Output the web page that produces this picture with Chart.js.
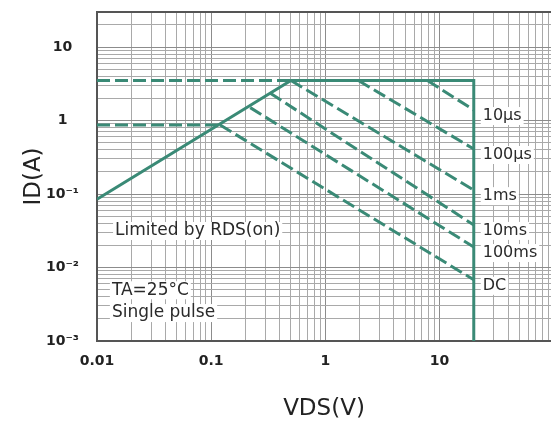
<!DOCTYPE html>
<html>
<head>
<meta charset="utf-8">
<script src="https://cdn.jsdelivr.net/npm/chart.js@4.4.0/dist/chart.umd.min.js"></script>
<style>
  html, body { margin: 0; padding: 0; background: #fff; }
  #wrap { width: 551px; height: 431px; }
</style>
</head>
<body>
<div id="wrap"><canvas id="soa" width="551" height="431"></canvas></div>
<script>
// axis extents (V, A)
const vdsRange = [0.01, 95];
const idRange = [0.001, 30];

const xTickValues = [0.01, 0.1, 1, 10];
const xTickLabels = ['0.01', '0.1', '1', '10'];
const yTickValues = [0.001, 0.01, 0.1, 1, 10];
const yTickLabels = ['10⁻³', '10⁻²', '10⁻¹', '1', '10'];

// outer SOA boundary: RDS(on) limit -> pulsed current limit -> VDS limit
const boundaryV = [0.01, 0.5, 20, 20];
const boundaryI = [0.085, 3.5, 3.5, 0.001];

// dashed current guides running in from the left edge
const guideV = [[0.01, 0.5], [0.01, 0.12]];
const guideI = [[3.5, 3.5], [0.87, 0.87]];

// pulse width lines: start point, end point on the VDS limit
const pulseNames = ['10µs', '100µs', '1ms', '10ms', '100ms', 'DC'];
const pulseStartV = [7.85, 1.95, 0.5, 0.33, 0.22, 0.12];
const pulseStartI = [3.5, 3.5, 3.5, 2.35, 1.5, 0.87];
const pulseEndV = [20, 20, 20, 20, 20, 20];
const pulseEndI = [1.39, 0.41, 0.113, 0.038, 0.019, 0.0068];

const green = '#3a8a76';
const fontFamily = '"DejaVu Sans", sans-serif';
const dash = [13, 5];

function logTicks(min, max) {
  const out = [];
  for (let e = Math.floor(Math.log10(min)); e <= Math.ceil(Math.log10(max)); e++) {
    for (let m = 1; m <= 9; m++) {
      const v = Number((m * Math.pow(10, e)).toPrecision(6));
      if (v >= min * 0.999 && v <= max * 1.001) out.push({ value: v });
    }
  }
  return out;
}

function majorIndex(list, value) {
  return list.findIndex(t => Math.abs(Math.log10(t) - Math.log10(value)) < 1e-6);
}

const datasets = [];
datasets.push({
  data: boundaryV.map((v, i) => ({ x: v, y: boundaryI[i] })),
  borderColor: green, borderWidth: 3
});
guideV.forEach((vs, k) => {
  datasets.push({
    data: vs.map((v, i) => ({ x: v, y: guideI[k][i] })),
    borderColor: green, borderWidth: 3, borderDash: dash
  });
});
pulseNames.forEach((name, k) => {
  datasets.push({
    label: name,
    pulse: true,
    data: [{ x: pulseStartV[k], y: pulseStartI[k] }, { x: pulseEndV[k], y: pulseEndI[k] }],
    borderColor: green, borderWidth: 3, borderDash: dash
  });
});

// plot frame on the left, top and bottom edges
const framePlugin = {
  id: 'frame',
  beforeDatasetsDraw(chart) {
    const { ctx, chartArea: a } = chart;
    ctx.save();
    ctx.strokeStyle = '#555';
    ctx.lineWidth = 2;
    ctx.beginPath();
    ctx.moveTo(a.right, a.top);
    ctx.lineTo(a.left, a.top);
    ctx.lineTo(a.left, a.bottom);
    ctx.lineTo(a.right, a.bottom);
    ctx.stroke();
    ctx.restore();
  }
};

function boxedText(ctx, text, x, y, font) {
  ctx.font = font;
  const w = ctx.measureText(text).width;
  ctx.fillStyle = '#fff';
  ctx.fillRect(x - 2, y - 9, w + 4, 18);
  ctx.fillStyle = '#2a2a2a';
  ctx.fillText(text, x, y);
}

// pulse names at the end of each line, plus the condition notes
const labelPlugin = {
  id: 'labels',
  afterDatasetsDraw(chart) {
    const { ctx, scales: { x, y } } = chart;
    ctx.save();
    ctx.textBaseline = 'middle';
    ctx.textAlign = 'left';
    chart.data.datasets.forEach(ds => {
      if (!ds.pulse) return;
      const end = ds.data[1];
      boxedText(ctx, ds.label, x.getPixelForValue(end.x) + 9, y.getPixelForValue(end.y) + 6, '16px ' + fontFamily);
    });
    const notes = [
      ['Limited by RDS(on)', 0.0144, 0.0314],
      ['TA=25°C', 0.0135, 0.0049],
      ['Single pulse', 0.0135, 0.0024]
    ];
    notes.forEach(([t, v, i]) => {
      boxedText(ctx, t, x.getPixelForValue(v), y.getPixelForValue(i), '17px ' + fontFamily);
    });
    ctx.restore();
  }
};

new Chart(document.getElementById('soa'), {
  type: 'scatter',
  data: { datasets },
  options: {
    responsive: false,
    devicePixelRatio: 1,
    animation: false,
    showLine: true,
    elements: { point: { radius: 0 }, line: { tension: 0 } },
    layout: { padding: { top: 12, right: 0, left: 0, bottom: 0 } },
    plugins: { legend: { display: false }, tooltip: { enabled: false } },
    scales: {
      x: {
        type: 'logarithmic',
        min: vdsRange[0], max: vdsRange[1],
        afterBuildTicks: s => { s.ticks = logTicks(vdsRange[0], vdsRange[1]); },
        afterFit: s => { s.height = 90; s.paddingLeft = 0; s.paddingRight = 0; },
        grid: {
          drawTicks: false,
          color: c => majorIndex(xTickValues, c.tick.value) >= 0 ? '#8c8c8c' : '#a9a9a9',
          lineWidth: 1
        },
        border: { display: false },
        ticks: {
          autoSkip: false, maxRotation: 0, padding: 12, color: '#222',
          font: { family: fontFamily, size: 14, weight: 'bold' },
          callback: v => { const i = majorIndex(xTickValues, v); return i >= 0 ? xTickLabels[i] : ''; }
        },
        title: {
          display: true, text: 'VDS(V)', color: '#222',
          font: { family: fontFamily, size: 23 },
          padding: { top: 0, bottom: 8 }
        }
      },
      y: {
        type: 'logarithmic',
        min: idRange[0], max: idRange[1],
        afterBuildTicks: s => { s.ticks = logTicks(idRange[0], idRange[1]); },
        afterFit: s => { s.width = 97; s.paddingTop = 0; s.paddingBottom = 0; },
        grid: {
          drawTicks: false,
          color: c => majorIndex(yTickValues, c.tick.value) >= 0 ? '#8c8c8c' : '#a9a9a9',
          lineWidth: 1
        },
        border: { display: false },
        ticks: {
          autoSkip: false, padding: 18, crossAlign: 'center', color: '#222',
          font: { family: fontFamily, size: 14, weight: 'bold' },
          callback: v => { const i = majorIndex(yTickValues, v); return i >= 0 ? yTickLabels[i] : ''; }
        },
        title: {
          display: true, text: 'ID(A)', color: '#222',
          font: { family: fontFamily, size: 23 },
          padding: { top: 20, bottom: 0 }
        }
      }
    }
  },
  plugins: [framePlugin, labelPlugin]
});
</script>
</body>
</html>
